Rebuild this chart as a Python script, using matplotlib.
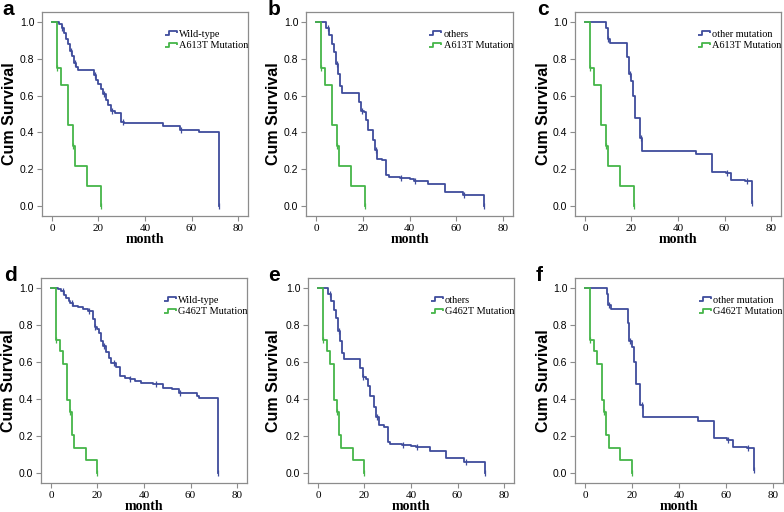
import matplotlib
matplotlib.use('Agg')
import matplotlib.pyplot as plt
import numpy as np
from matplotlib.path import Path
from matplotlib.lines import Line2D

# ---- datos (tiempos de evento en meses, supervivencia tras cada caida) ----
a613t_t = [2, 4, 7, 9, 10, 15, 21]
a613t_s = [0.75, 0.656, 0.4375, 0.328, 0.219, 0.109, 0.0]

g462t_t = [2, 4, 5, 7, 8, 9, 10, 15, 20]
g462t_s = [0.72, 0.66, 0.59, 0.397, 0.331, 0.204, 0.136, 0.068, 0.0]

wt_a_t = [3.2, 4.1, 5.1, 5.9, 7.0, 7.7, 8.7, 9.5, 10.3, 11.0, 18.1, 18.9, 19.9,
          21.1, 21.8, 23.1, 24.2, 25.2, 27.1, 29.7, 31.1, 47.9, 55.2, 63.1, 72.0]
wt_a_s = [0.987, 0.966, 0.94, 0.91, 0.88, 0.843, 0.815, 0.78, 0.756, 0.738,
          0.711, 0.684, 0.662, 0.635, 0.608, 0.575, 0.548, 0.514, 0.508, 0.457,
          0.452, 0.436, 0.415, 0.40, 0.0]

others_t = [4.4, 5.6, 6.7, 7.7, 8.6, 9.6, 10.3, 11.3, 18.2, 19.2, 20.6, 21.5,
            22.2, 24.2, 25.1, 26.1, 28.2, 29.9, 31.1, 36.0, 40.0, 42.0, 48.0,
            55.1, 62.8, 72.0]
others_s = [0.97, 0.93, 0.88, 0.84, 0.77, 0.715, 0.65, 0.615, 0.566, 0.518,
            0.51, 0.47, 0.415, 0.357, 0.302, 0.257, 0.248, 0.166, 0.157, 0.15,
            0.145, 0.138, 0.118, 0.078, 0.06, 0.0]

othermut_t = [9.2, 9.9, 10.9, 18.2, 18.9, 20.0, 20.7, 21.7, 23.5, 24.7, 47.9,
              54.8, 60.6, 62.8, 68.8, 72.0]
othermut_s = [0.97, 0.91, 0.885, 0.81, 0.716, 0.68, 0.598, 0.48, 0.37, 0.30,
              0.282, 0.186, 0.18, 0.14, 0.135, 0.015]

wt_d_t = [3.0, 4.4, 5.5, 6.6, 7.6, 8.3, 9.5, 11.6, 13.8, 15.9, 18.1, 18.8,
          19.8, 20.5, 21.4, 22.4, 23.8, 24.8, 25.9, 28.1, 29.8, 31.7, 33.8,
          36.0, 38.9, 43.9, 48.2, 52.0, 55.2, 62.8, 63.5, 72.0]
wt_d_s = [0.996, 0.982, 0.964, 0.946, 0.933, 0.919, 0.906, 0.897, 0.887,
          0.877, 0.834, 0.787, 0.778, 0.756, 0.715, 0.689, 0.657, 0.62, 0.593,
          0.572, 0.525, 0.516, 0.507, 0.498, 0.488, 0.481, 0.458, 0.452, 0.43,
          0.418, 0.405, 0.0]

# marcas de censura (meses)
a613t_c = [2, 9, 21]
g462t_c = [2, 8, 20]
wt_a_c = [4.5, 8.0, 9.8, 18.5, 22.5, 26.0, 30.5, 55.5, 72.0]
others_c = [5.0, 9.0, 19.5, 25.5, 36.5, 42.5, 63.5, 72.0]
othermut_c = [10.0, 19.2, 24.2, 61.0, 69.5, 72.0]
wt_d_c = [5.0, 9.0, 16.5, 19.0, 23.0, 27.0, 34.0, 45.0, 55.5, 72.0]

paneles = [
    ('a', 'Wild-type', wt_a_t, wt_a_s, wt_a_c, 'A613T Mutation', a613t_t, a613t_s, a613t_c),
    ('b', 'others', others_t, others_s, others_c, 'A613T Mutation', a613t_t, a613t_s, a613t_c),
    ('c', 'other mutation', othermut_t, othermut_s, othermut_c, 'A613T Mutation', a613t_t, a613t_s, a613t_c),
    ('d', 'Wild-type', wt_d_t, wt_d_s, wt_d_c, 'G462T Mutation', g462t_t, g462t_s, g462t_c),
    ('e', 'others', others_t, others_s, others_c, 'G462T Mutation', g462t_t, g462t_s, g462t_c),
    ('f', 'other mutation', othermut_t, othermut_s, othermut_c, 'G462T Mutation', g462t_t, g462t_s, g462t_c),
]

# posiciones en pixeles: izquierda, arriba, ancho, alto
W, H = 784, 512
cajas = [(42, 12, 206, 204), (306, 12, 207, 204), (575, 12, 206, 204),
         (41, 278, 206, 205), (308, 278, 206, 205), (575, 278, 208, 205)]
letras_xy = [(2, 15), (268, 15), (537, 15), (4, 281), (268, 281), (536, 281)]
ylab_x = [10, 274, 544, 9, 274, 543]

AZUL = '#3f4c9c'
VERDE = '#45b549'
GRIS = '#8c8c8c'

# simbolo escalonado de la leyenda
paso = Path([(-1, -0.4), (-0.35, -0.4), (-0.35, 0.4), (1, 0.4), (1, 0.05)],
            [Path.MOVETO, Path.LINETO, Path.LINETO, Path.LINETO, Path.LINETO])


def curva(ax, t, s, cens, color):
    xs = [0] + list(t)
    ys = [1.0] + list(s)
    ax.step(xs, ys, where='post', color=color, lw=1.3, zorder=3)
    t_arr = np.array(t)
    s_arr = np.array(s)
    yc = []
    for c in cens:
        k = np.searchsorted(t_arr, c, side='right') - 1
        yc.append(1.0 if k < 0 else s_arr[k])
    ax.plot(cens, yc, linestyle='none', marker='|', ms=4, mew=0.9, color=color, zorder=4)


fig = plt.figure(figsize=(W / 100, H / 100), dpi=100)

for i, (letra, lab1, t1, s1, c1, lab2, t2, s2, c2) in enumerate(paneles):
    l, top, w, h = cajas[i]
    ax = fig.add_axes([l / W, 1 - (top + h) / H, w / W, h / H])
    curva(ax, t1, s1, c1, AZUL)
    curva(ax, t2, s2, c2, VERDE)

    ax.set_xlim(-4.3, 84.3)
    ax.set_ylim(-0.055, 1.055)
    ax.set_xticks([0, 20, 40, 60, 80])
    ax.set_yticks([0.0, 0.2, 0.4, 0.6, 0.8, 1.0])
    ax.set_yticklabels(['0.0', '0.2', '0.4', '0.6', '0.8', '1.0'],
                       family='Liberation Sans', fontsize=7.5)
    ax.set_xticklabels(['0', '20', '40', '60', '80'],
                       family='Liberation Serif', fontsize=8)
    for sp in ax.spines.values():
        sp.set_color(GRIS)
        sp.set_linewidth(0.9)
    ax.tick_params(direction='out', length=3.5, width=0.8, color=GRIS, pad=2)
    ax.set_xlabel('month', family='Liberation Serif', fontweight='bold',
                  fontsize=10, labelpad=0)

    handles = [Line2D([], [], linestyle='none', marker=paso, ms=8,
                      markerfacecolor='none', markeredgecolor=col, mew=1.3)
               for col in (AZUL, VERDE)]
    ax.legend(handles, [lab1, lab2], loc='upper left',
              bbox_to_anchor=(0.6, 0.915), frameon=False, borderpad=0,
              borderaxespad=0, handlelength=1.0, handletextpad=0.3,
              labelspacing=0.25, prop={'family': 'Liberation Serif', 'size': 7.4})

    fig.text(ylab_x[i] / W, 1 - (top + h / 2) / H, 'Cum Survival',
             rotation=90, ha='center', va='center', family='Liberation Sans',
             fontweight='bold', fontsize=11.5)
    lx, ly = letras_xy[i]
    fig.text(lx / W, 1 - ly / H, letra, ha='left', va='baseline',
             family='Liberation Sans', fontweight='bold', fontsize=15)

fig.savefig('out.png', dpi=100, facecolor='white')
